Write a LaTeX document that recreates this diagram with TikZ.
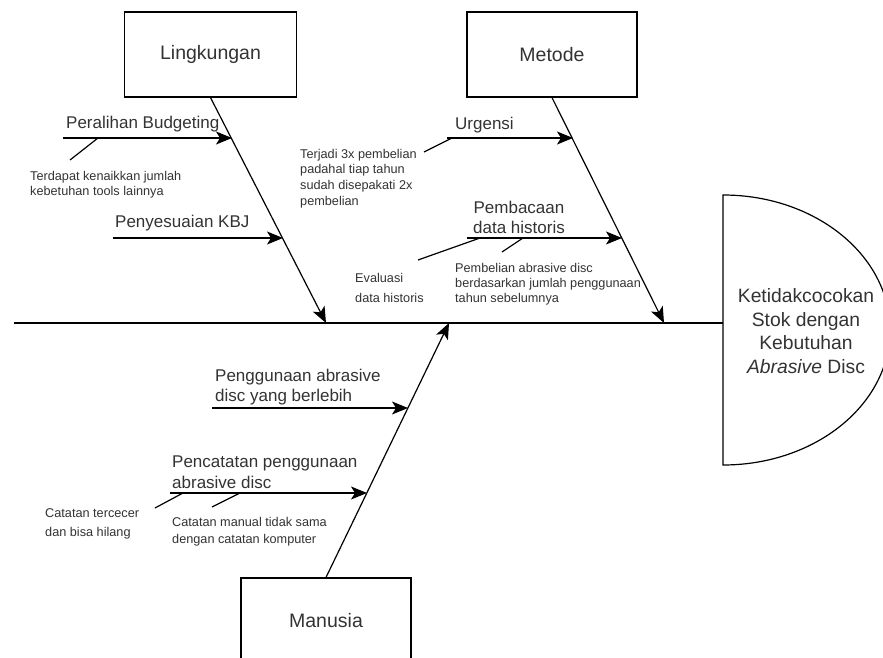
\documentclass[tikz,border=0pt]{standalone}
\usepackage{fontspec}
\setmainfont{Liberation Sans}
\usetikzlibrary{arrows.meta}
\definecolor{txt}{HTML}{333333}
\begin{document}
\begin{tikzpicture}[x=1pt,y=-1pt,
  bone/.style={draw=black, line width=1.2pt},
  arr/.style={bone, -{Stealth[length=16pt,width=13pt,inset=4pt,fill=black]}},
  catbox/.style={draw=black, line width=1.2pt, minimum width=172pt, minimum height=85pt, inner sep=0pt, font=\fontsize{19.5}{22}\selectfont, text=txt},
  lbl/.style={font=\fontsize{17}{20}\selectfont, text=txt, anchor=west, align=left, inner sep=0pt},
  note/.style={font=\fontsize{12.7}{15.5}\selectfont, text=txt, anchor=west, align=left, inner sep=0pt}]
\useasboundingbox (0,0) rectangle (883,658);
\clip (0,0) rectangle (883,658);
\fill[white] (0,0) rectangle (883,658);

% category boxes
\node[catbox] (ling) at (210.5,54.5) {Lingkungan};
\node[catbox, minimum width=170pt] (met) at (552,54.5) {Metode};
\node[catbox, minimum width=170pt] (man) at (326,620.5) {Manusia};

% head
\draw[bone] (723,195) -- (723,465) arc[start angle=90, end angle=-90, x radius=167, y radius=135] -- cycle;
\node[font=\fontsize{19.3}{23.7}\selectfont, text=txt, align=center, inner sep=0pt] (head) at (806,331)
  {Ketidakcocokan\\Stok dengan\\Kebutuhan\\\textit{Abrasive} Disc};

% spine
\coordinate (sl) at (14,323);
\coordinate (sr) at (723,323);
\draw[bone] (sl) -- (sr);

% main bones
\coordinate (lt) at (326,323);
\coordinate (mt) at (664,323);
\coordinate (mat) at (449,323);
\draw[arr] (ling.south) -- (lt);
\draw[arr] (met.south) -- (mt);
\draw[arr] (man.north) -- (mat);

% Lingkungan sub-bones
\coordinate (pb1) at (63,138); \coordinate (pb2) at (232,138);
\draw[arr] (pb1) -- (pb2);
\node[lbl] (pbl) at (66,124) {Peralihan Budgeting};
\coordinate (pd1) at (98,138); \coordinate (pd2) at (70,160);
\draw[bone] (pd1) -- (pd2);
\node[note] (pbn) at (30,184.5) {Terdapat kenaikkan jumlah\\kebetuhan tools lainnya};

\coordinate (pk1) at (113,238); \coordinate (pk2) at (283,238);
\draw[arr] (pk1) -- (pk2);
\node[lbl] (pkl) at (115,223) {Penyesuaian KBJ};

% Metode sub-bones
\coordinate (ur1) at (447,138); \coordinate (ur2) at (573,138);
\draw[arr] (ur1) -- (ur2);
\node[lbl] (url) at (455,125) {Urgensi};
\coordinate (ud1) at (452,138); \coordinate (ud2) at (424,152);
\draw[bone] (ud1) -- (ud2);
\node[note, font=\fontsize{12.7}{15.7}\selectfont] (urn) at (300,178.5) {Terjadi 3x pembelian\\padahal tiap tahun\\sudah disepakati 2x\\pembelian};

\coordinate (dh1) at (467,238); \coordinate (dh2) at (622,238);
\draw[arr] (dh1) -- (dh2);
\node[lbl, anchor=center, align=center] (dhl) at (519,217) {Pembacaan\\data historis};
\coordinate (dd1) at (480,238); \coordinate (dd2) at (418,260);
\draw[bone] (dd1) -- (dd2);
\coordinate (de1) at (523,238); \coordinate (de2) at (502,252);
\draw[bone] (de1) -- (de2);
\node[note, font=\fontsize{12.7}{20}\selectfont] (dhn1) at (355,288) {Evaluasi\\data historis};
\node[note, font=\fontsize{12.7}{15}\selectfont] (dhn2) at (455,284) {Pembelian abrasive disc\\berdasarkan jumlah penggunaan\\tahun sebelumnya};

% Manusia sub-bones
\coordinate (pg1) at (212,408); \coordinate (pg2) at (408,408);
\draw[arr] (pg1) -- (pg2);
\node[lbl] (pgl) at (215,387) {Penggunaan abrasive\\disc yang berlebih};

\coordinate (pc1) at (170,493); \coordinate (pc2) at (367,493);
\draw[arr] (pc1) -- (pc2);
\node[lbl, font=\fontsize{17}{21.5}\selectfont] (pcl) at (172,472) {Pencatatan penggunaan\\abrasive disc};
\coordinate (pe1) at (183,493); \coordinate (pe2) at (155,508);
\draw[bone] (pe1) -- (pe2);
\coordinate (pf1) at (240,493); \coordinate (pf2) at (212,507);
\draw[bone] (pf1) -- (pf2);
\node[note, font=\fontsize{12.7}{19}\selectfont] (pcn1) at (45,523.5) {Catatan tercecer\\dan bisa hilang};
\node[note, font=\fontsize{12.7}{17}\selectfont] (pcn2) at (172,531.5) {Catatan manual tidak sama\\dengan catatan komputer};
\end{tikzpicture}
\end{document}
